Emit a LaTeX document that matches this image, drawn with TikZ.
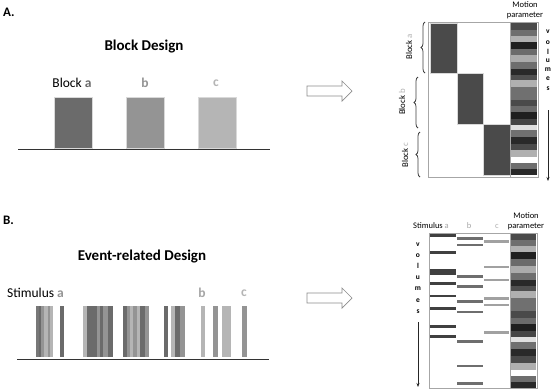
\documentclass[tikz,border=0pt]{standalone}
\usepackage{fontspec}
\setmainfont{Carlito}
\usetikzlibrary{decorations.pathreplacing,arrows.meta}
\begin{document}
\begin{tikzpicture}[x=1pt,y=-1pt,
  heading/.style={font=\bfseries\fontsize{15}{17}\selectfont, inner sep=0},
  panel/.style={font=\bfseries\fontsize{13}{15}\selectfont, inner sep=0, anchor=west},
  lab/.style={font=\fontsize{13.5}{15}\selectfont, inner sep=0},
  small/.style={font=\fontsize{8.5}{10}\selectfont, inner sep=0},
  rlab/.style={font=\fontsize{8.8}{10}\selectfont, inner sep=0, rotate=90},
  vol/.style={font=\bfseries\fontsize{7.5}{8}\selectfont, inner sep=0},
  frame/.style={draw=black!35, line width=0.8pt},
  blockarrow/.style={draw=black!45, line width=0.7pt, fill=white},
  volarrow/.style={-{Stealth[length=4pt,width=3pt]}, line width=0.7pt, black!85},
  bracestyle/.style={decorate, decoration={brace, amplitude=4pt}, draw=black!75, line width=0.8pt},
  baseline/.style={line width=1pt, black!80},
  edge/.style={draw=black!15, line width=0.4pt}
]
\useasboundingbox (0,0) rectangle (552,389);
\fill[white] (0,0) rectangle (552,389);

% ---------------- Panel A ----------------
\node[panel] (pa) at (3,12) {A.};
\node[heading] (hA) at (144,47) {Block Design};
\node[lab] (la) at (72,83) {Block \textbf{\color{black!58}a}};
\node[lab] (lb) at (145,83) {\textbf{\color{black!42}b}};
\node[lab] (lc) at (216,83) {\textbf{\color{black!29}c}};
\fill[black!58, edge] (54,97) rectangle (92,148);
\fill[black!42, edge] (126,97) rectangle (164,148);
\fill[black!29, edge] (198,97) rectangle (236,148);
\coordinate (bA1) at (18,149);
\coordinate (bA2) at (270,149);
\draw[baseline] (bA1) -- (bA2);

% block arrow A
\draw[blockarrow] (307,86) -- (342,86) -- (342,81) -- (352,91) -- (342,101) -- (342,96) -- (307,96) -- cycle;

% matrix A
\fill[black!71, edge] (430,23) rectangle (457,73);
\fill[black!71, edge] (457,73) rectangle (483,124);
\fill[black!71, edge] (483,124) rectangle (510,175);
\begin{scope}[shift={(511,23)}]
\foreach \a/\b/\g in {0/6.6/71,6.6/13/57,13/19/31,19/25.6/88,25.6/32.3/58,32.3/39/33,39/45.6/57,45.6/52.3/84,52.3/57.3/69,57.3/64/31,64/76.6/56,76.6/83.3/71,83.3/89.3/58,89.3/95.6/88,95.6/102.3/73,102.3/107.3/12,107.3/114/56,114/120.6/84,120.6/127.3/71,127.3/134/31,134/140/0,140/145.6/57,145.6/152/84}
  \fill[black!\g] (0,\a) rectangle (26,\b);
\end{scope}
\draw[frame] (428,22) rectangle (538,177);
\draw[black!35, line width=0.6pt] (510.5,22) -- (510.5,177);
\node[small] (mA1) at (525,5) {Motion};
\node[small] (mA2) at (525,15.5) {parameter};
\foreach \l/\y in {v/32,o/43,l/52,u/61,m/69.5,e/79,s/89}
  \node[vol] at (548,\y) {\l};
\coordinate (vA1) at (548,110);
\coordinate (vA2) at (548,181);
\draw[volarrow] (vA1) -- (vA2);
\draw[bracestyle] (425,73) -- (425,22);
\draw[bracestyle] (418,128) -- (418,77);
\draw[bracestyle] (420,177) -- (420,132);
\node[rlab] (ra) at (409,47) {Block \textcolor{black!30}{a}};
\node[rlab] (rb) at (402,102) {Block \textcolor{black!30}{b}};
\node[rlab] (rc) at (405,155) {Block \textcolor{black!30}{c}};

% ---------------- Panel B ----------------
\node[panel] (pb) at (3,220) {B.};
\node[heading] (hB) at (142,257) {Event-related Design};
\node[lab] (sa) at (35.5,293) {Stimulus \textbf{\color{black!42}a}};
\node[lab] (sb) at (202,293) {\textbf{\color{black!35}b}};
\node[lab] (sc) at (244,293) {\textbf{\color{black!29}c}};
\foreach \a/\b/\g in {35.5/38.5/53,38.5/41/58,41/44/42,44/47.5/29,47.5/49.5/42,49.5/52.5/29,
  59.5/63.5/58,
  82.7/87/29,87/96.7/58,96.7/100/42,100/102.7/58,102.7/108.3/42,108.3/112.7/58,
  123.3/127.3/58,127.3/130/42,130/133.3/29,133.3/136.7/42,136.7/140/29,140/145/58,145/149.3/42,
  163.5/168/58,171/175/29,175/180/58,180/185/42,
  200.5/205/29,213/217.5/42,222/231/29,241.7/246.5/42}
  \fill[black!\g] (\a,306) rectangle (\b,357);
\coordinate (bB1) at (17,359);
\coordinate (bB2) at (269,359);
\draw[baseline] (bB1) -- (bB2);

% block arrow B
\draw[blockarrow] (307,293) -- (342,293) -- (342,288) -- (352,298) -- (342,308) -- (342,303) -- (307,303) -- cycle;

% matrix B
\foreach \y in {235.7,252.7,283.3,296,308.3,326.7,336.7}
  \fill[black!75] (430,{\y-1.4}) rectangle (456,{\y+1.4});
\fill[black!75] (430,269) rectangle (456,275);
\foreach \y in {238.3,245,276.7,286.5,301.7,312,341.5,366,383.5}
  \fill[black!57] (457,{\y-1.4}) rectangle (483,{\y+1.4});
\foreach \y in {241.5,267,280,298.7,305,332.5}
  \fill[black!37] (484,{\y-1.4}) rectangle (509,{\y+1.4});
\begin{scope}[shift={(511,233)}, yscale=1.02]
\foreach \a/\b/\g in {0/6.6/71,6.6/13/57,13/19/31,19/25.6/88,25.6/32.3/58,32.3/39/33,39/45.6/57,45.6/52.3/84,52.3/57.3/69,57.3/64/31,64/76.6/56,76.6/83.3/71,83.3/89.3/58,89.3/95.6/88,95.6/102.3/73,102.3/107.3/12,107.3/114/56,114/120.6/84,120.6/127.3/71,127.3/134/31,134/140/0,140/145.6/57,145.6/152/84}
  \fill[black!\g] (0,\a) rectangle (25,\b);
\end{scope}
\draw[frame] (429,233) rectangle (537,388);
\draw[black!35, line width=0.6pt] (510.5,233) -- (510.5,388);
\node[small] (mB1) at (526,216) {Motion};
\node[small] (mB2) at (526,226.5) {parameter};
\node[small] (tsa) at (431,226) {Stimulus \textcolor{black!35}{a}};
\node[small] (tsb) at (469,226) {\textcolor{black!35}{b}};
\node[small] (tsc) at (497,226) {\textcolor{black!30}{c}};
\foreach \l/\y in {v/245,o/256,l/266,u/278,m/289,e/301,s/312}
  \node[vol] at (418,\y) {\l};
\coordinate (vB1) at (418,322);
\coordinate (vB2) at (418,387);
\draw[volarrow] (vB1) -- (vB2);
\end{tikzpicture}
\end{document}
